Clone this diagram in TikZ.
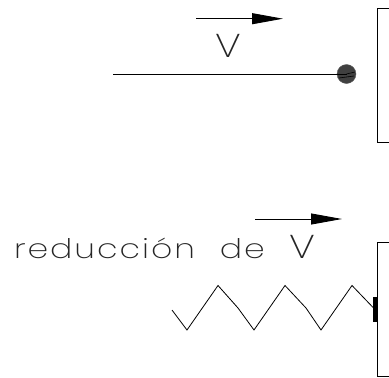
\documentclass[tikz,border=0pt]{standalone}
\usepackage{fontspec}
\newfontfamily\cadfont[LetterSpace=6, WordSpace=2.2]{Poppins ExtraLight}
\usetikzlibrary{%
  positioning,
  arrows.meta
}
\tikzset{
  wall/.style = {black, line width = 0.9pt},
  velocity/.style = {black, line width = 0.9pt, -{Triangle[length = 31pt, width = 11pt]}},
  label/.style = {font = \cadfont\fontsize{27}{27}\selectfont, xscale = 1.225, inner sep = 0, outer sep = 0, text = black!85},
  bigv/.style = {font = \cadfont\fontsize{33}{33}\selectfont, xscale = 1.22, inner sep = 0, outer sep = 0, text = black!85},
  ball/.style = {circle, draw = black!65, fill = black!75, minimum size = 19pt, inner sep = 0},
  plate/.style = {rectangle, fill = black, minimum width = 4pt, minimum height = 25pt, inner sep = 0},
  spring/.style = {black, line width = 0.8pt}
}
\begin{document}
\begin{tikzpicture}[x = 1pt, y = -1pt]
  \useasboundingbox (0, 0) rectangle (389, 378);
  % upper case
  \coordinate (upperFrom) at (196, 18.7);
  \coordinate (upperTo) at (283, 18.7);
  \draw [velocity] (upperFrom) -- (upperTo);
  \node (upperLabel) [bigv] at (228.5, 46) {V};
  \node (mass) [ball] at (346.5, 74) {};
  \coordinate (cordEnd) at (113, 74);
  \draw [black, line width = 0.9pt] (cordEnd) -- (mass.center);
  \draw [black, line width = 0.6pt] (mass.center) -- (355, 72);
  \draw [black, line width = 0.6pt] (339, 78) -- (354, 76);
  \draw [wall] (389, 8) -- (377, 8) -- (377, 142) -- (389, 142);
  % lower case
  \coordinate (lowerFrom) at (255, 219);
  \coordinate (lowerTo) at (342, 219);
  \draw [velocity] (lowerFrom) -- (lowerTo);
  \node (lowerLabel) [label, anchor = base west] at (14, 258) {reducción de {\fontsize{33}{33}\selectfont V}};
  \node (stop) [plate] at (375, 309.5) {};
  \coordinate (springEnd) at (172, 310);
  \draw [spring] (springEnd) -- (187, 330) -- (218, 285.5) -- (238, 308)
    -- (254, 330) -- (285, 285.5) -- (306, 308) -- (321, 330)
    -- (352, 285.5) -- (stop.center);
  \draw [wall] (389, 242.5) -- (377, 242.5) -- (377, 376) -- (389, 376);
\end{tikzpicture}
\end{document}
